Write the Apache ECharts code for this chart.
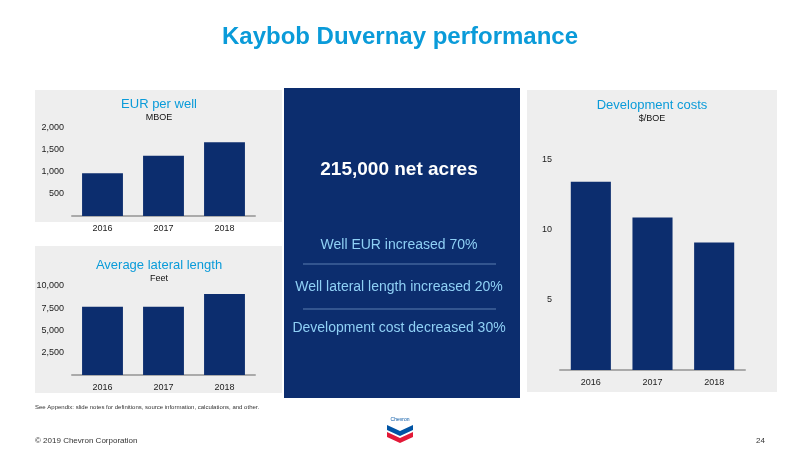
<!DOCTYPE html><html><head><meta charset="utf-8"><script src="https://cdn.jsdelivr.net/npm/echarts@6/dist/echarts.min.js"></script></head><body style="margin:0"><div id="c" style="width:800px;height:450px"></div><script>
var years=['2016','2017','2018'];
var eur=[970,1370,1675];
var lateral=[7670,7670,9100];
var devCost=[13.45,10.9,9.1];
var NAVY='#0c2d6e',BLUE='#0a9bd9',F='Liberation Sans, Arial, sans-serif';
function ax(i,max,interval,fmt){return {gridIndex:i,type:'value',min:0,max:max,interval:interval,splitLine:{show:false},axisLine:{show:false},axisTick:{show:false},axisLabel:{fontSize:9,color:'#222',fontFamily:F,formatter:function(v){return v===0?'':fmt(v);}}};}
function cx(i){return {gridIndex:i,type:'category',data:years,axisTick:{show:false},axisLine:{lineStyle:{color:'#aaa',width:2}},axisLabel:{fontSize:9,color:'#222',fontFamily:F,margin:8}};}
var num=function(v){return v.toLocaleString('en-US');};
var chart=echarts.init(document.getElementById('c'));
chart.setOption({animation:false,backgroundColor:'#fff',
graphic:[
{type:'rect',shape:{x:35,y:90,width:247,height:132},style:{fill:'#eeeeee'}},
{type:'rect',shape:{x:35,y:246,width:247,height:147},style:{fill:'#eeeeee'}},
{type:'rect',shape:{x:284,y:88,width:236,height:310},style:{fill:NAVY}},
{type:'rect',shape:{x:527,y:90,width:250,height:302},style:{fill:'#eeeeee'}},
{type:'text',x:400,y:37,style:{text:'Kaybob Duvernay performance',fill:BLUE,font:'bold 24px '+F,textAlign:'center',textVerticalAlign:'middle'}},
{type:'text',x:159,y:104,style:{text:'EUR per well',fill:BLUE,font:'13px '+F,textAlign:'center',textVerticalAlign:'middle'}},
{type:'text',x:159,y:118,style:{text:'MBOE',fill:'#111',font:'9px '+F,textAlign:'center',textVerticalAlign:'middle'}},
{type:'text',x:159,y:265,style:{text:'Average lateral length',fill:BLUE,font:'13px '+F,textAlign:'center',textVerticalAlign:'middle'}},
{type:'text',x:159,y:279,style:{text:'Feet',fill:'#111',font:'9px '+F,textAlign:'center',textVerticalAlign:'middle'}},
{type:'text',x:652,y:105,style:{text:'Development costs',fill:BLUE,font:'13px '+F,textAlign:'center',textVerticalAlign:'middle'}},
{type:'text',x:652,y:119,style:{text:'$/BOE',fill:'#111',font:'9px '+F,textAlign:'center',textVerticalAlign:'middle'}},
{type:'text',x:399,y:170,style:{text:'215,000 net acres',fill:'#fff',font:'bold 19px '+F,textAlign:'center',textVerticalAlign:'middle'}},
{type:'text',x:399,y:245,style:{text:'Well EUR increased 70%',fill:'#8fd0f5',font:'14px '+F,textAlign:'center',textVerticalAlign:'middle'}},
{type:'line',shape:{x1:303,y1:264,x2:496,y2:264},style:{stroke:'#5a7fb0',lineWidth:1}},
{type:'text',x:399,y:287,style:{text:'Well lateral length increased 20%',fill:'#8fd0f5',font:'14px '+F,textAlign:'center',textVerticalAlign:'middle'}},
{type:'line',shape:{x1:303,y1:309,x2:496,y2:309},style:{stroke:'#5a7fb0',lineWidth:1}},
{type:'text',x:399,y:328,style:{text:'Development cost decreased 30%',fill:'#8fd0f5',font:'14px '+F,textAlign:'center',textVerticalAlign:'middle'}},
{type:'text',x:35,y:407,style:{text:'See Appendix: slide notes for definitions, source information, calculations, and other.',fill:'#333',font:'6px '+F,textVerticalAlign:'middle'}},
{type:'text',x:35,y:441,style:{text:'© 2019 Chevron Corporation',fill:'#333',font:'8px '+F,textVerticalAlign:'middle'}},
{type:'text',x:765,y:441,style:{text:'24',fill:'#333',font:'8px '+F,textAlign:'right',textVerticalAlign:'middle'}},
{type:'text',x:400,y:420,style:{text:'Chevron',fill:'#0054a4',font:'5px '+F,textAlign:'center',textVerticalAlign:'middle'}},
{type:'polygon',shape:{points:[[387,425],[400,431],[413,425],[413,430],[400,436],[387,430]]},style:{fill:'#0054a4'}},
{type:'polygon',shape:{points:[[387,432],[400,438],[413,432],[413,437],[400,443],[387,437]]},style:{fill:'#e31937'}}
],
grid:[{left:72,top:128,width:183,height:88},{left:72,top:286,width:183,height:89},{left:560,top:160,width:185,height:210}],
xAxis:[cx(0),cx(1),cx(2)],
yAxis:[ax(0,2000,500,num),ax(1,10000,2500,num),ax(2,15,5,num)],
series:[
{type:'bar',xAxisIndex:0,yAxisIndex:0,data:eur,barWidth:'67%',itemStyle:{color:NAVY}},
{type:'bar',xAxisIndex:1,yAxisIndex:1,data:lateral,barWidth:'67%',itemStyle:{color:NAVY}},
{type:'bar',xAxisIndex:2,yAxisIndex:2,data:devCost,barWidth:'65%',itemStyle:{color:NAVY}}
]});
</script></body></html>
